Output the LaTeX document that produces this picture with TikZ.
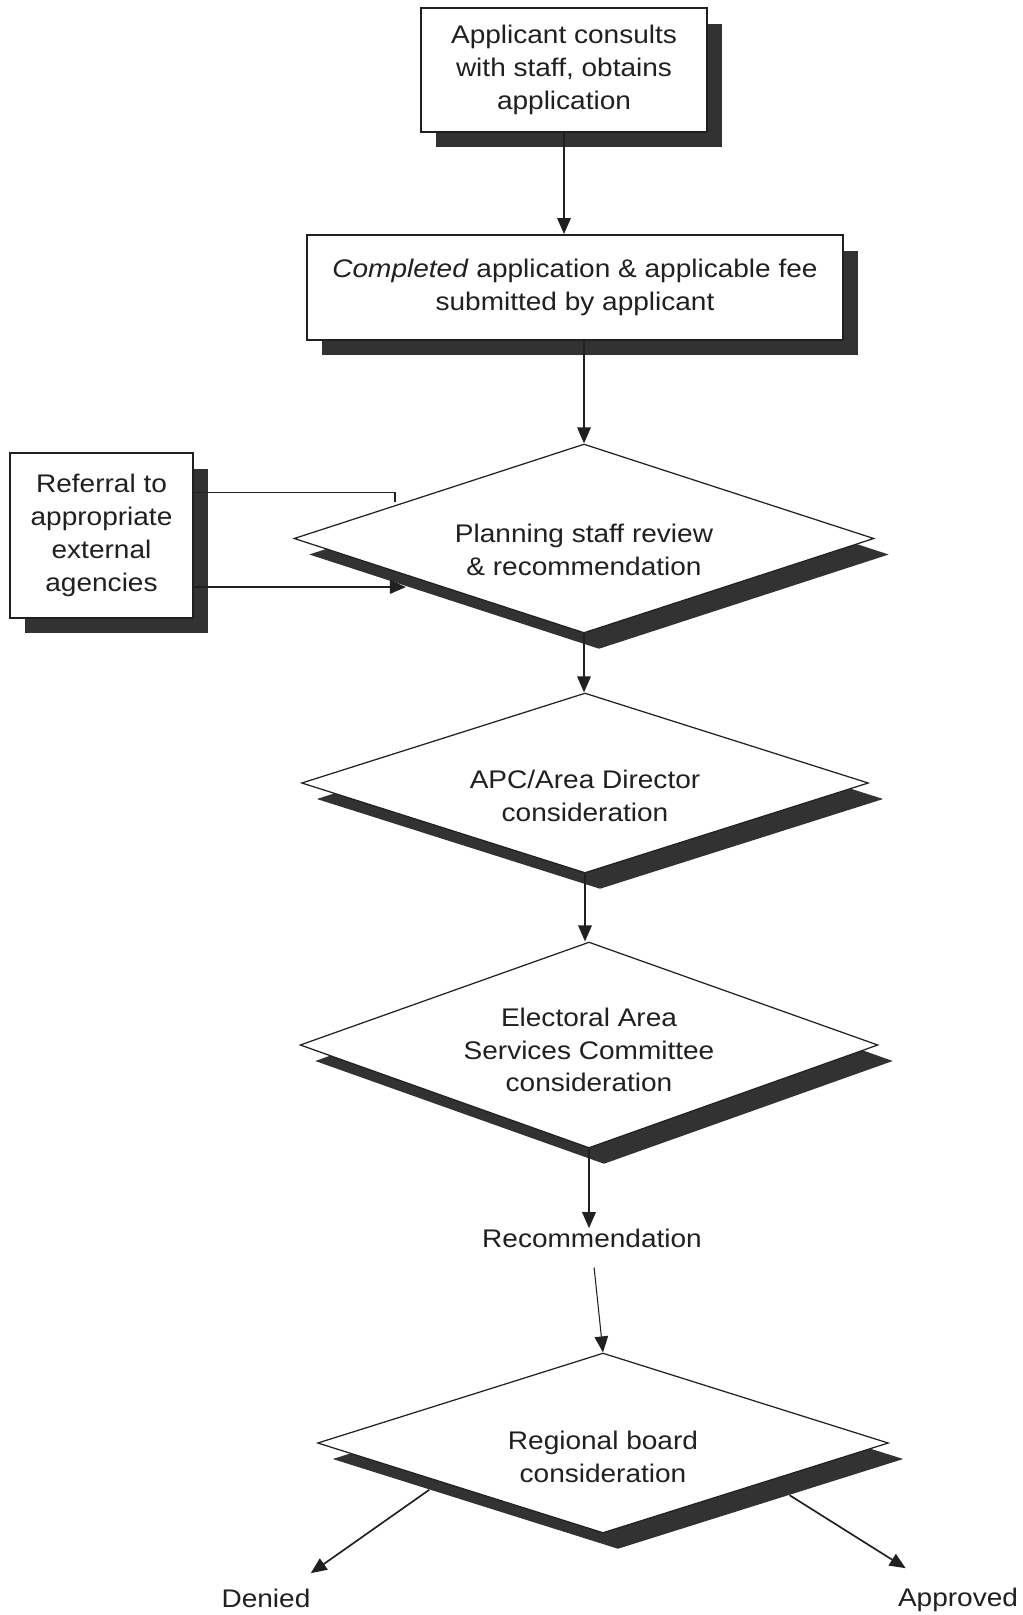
\documentclass[tikz,border=0pt]{standalone}
\usepackage{fontspec}
\setmainfont[FakeStretch=1.1]{Liberation Sans}
\usetikzlibrary{shapes.geometric,arrows.meta,shadows,calc}
\definecolor{Ink}{RGB}{32,32,32}
\definecolor{Shade}{RGB}{50,50,50}
\newcommand{\flowfont}{\fontsize{14.5}{18.7}\selectfont}
\tikzset{
  stepbox/.style={rectangle,draw=Ink,line width=1.1pt,fill=white,
                  align=center,inner sep=2pt,
                  drop shadow={shadow xshift=0.3cm,shadow yshift=-0.31cm,
                               fill=Shade,opacity=1}},
  decision/.style={diamond,draw=Ink,line width=0.7pt,fill=white,inner sep=0pt,
                  drop shadow={shadow xshift=0.3cm,shadow yshift=-0.32cm,
                               fill=Shade,opacity=1}},
  dtext/.style={align=center,inner sep=0pt},
  outcome/.style={inner sep=0pt,anchor=base},
  flow/.style={-{Triangle[length=0.32cm,width=0.27cm]},Ink,line width=0.95pt},
  link/.style={Ink,line width=0.95pt},
}

\begin{document}
\begin{tikzpicture}[x=0.02cm,y=-0.02cm,
    every node/.style={font=\flowfont,text=Ink}]
  \useasboundingbox (0,0) rectangle (1023,1615);

  % boxes
  \node[stepbox,minimum width=5.72cm,minimum height=2.48cm] (consult) at (564,70)
    {Applicant consults\\with staff, obtains\\application};
  \node[stepbox,minimum width=10.72cm,minimum height=2.1cm] (submit) at (575,287.5)
    {\textit{Completed} application \& applicable fee\\submitted by applicant};
  \node[stepbox,minimum width=3.66cm,minimum height=3.3cm] (referral) at (101.5,535.5)
    {Referral to\\appropriate\\external\\agencies};

  % decisions
  \node[decision,minimum width=11.6cm,minimum height=3.78cm,
        label={[dtext,yshift=-0.22cm]center:Planning staff review\\\& recommendation}]
        (review) at (584,538.5) {};
  \node[decision,minimum width=11.34cm,minimum height=3.6cm,
        label={[dtext,yshift=-0.26cm]center:APC/Area Director\\consideration}]
        (apc) at (585,783) {};
  \node[decision,minimum width=11.56cm,minimum height=4.12cm,
        label={[dtext,yshift=-0.1cm]center:Electoral Area\\Services Committee\\consideration}]
        (easc) at (589,1045) {};
  \node[decision,minimum width=11.42cm,minimum height=3.6cm,
        label={[dtext,yshift=-0.28cm]center:Regional board\\consideration}]
        (board) at (603,1443) {};

  % plain labels
  \node[outcome] (recomm) at (592,1247) {Recommendation};
  \node[outcome] (denied) at (266,1607) {Denied};
  \node[outcome] (approved) at (958,1606) {Approved};

  % connectors
  \draw[flow] (consult.south) -- (consult.south |- submit.north);
  \draw[flow] (submit.south -| review.north) -- (review.north);
  \draw[flow] (review.south) -- (review.south |- apc.north);
  \draw[flow] (apc.south) -- (apc.south |- easc.north);
  \draw[flow] (easc.south) -- (easc.south |- recomm.north);
  \draw[flow,line width=0.6pt,shorten <=0.4cm] (recomm.south) -- (board.north);

  \coordinate (reftop) at (395,502);
  \draw[link] (reftop) |- ($(referral.east)+(0,-43)$);
  \draw[flow] ($(referral.east)+(0,51.5)$) -- ++(212,0);

  \draw[flow] ($(board.south)!0.66!(board.west)+(15,16)$)
    -- ($(denied.north east)+(0,-15)$);
  \draw[flow] ($(board.south)!0.6!(board.east)+(15,16)$)
    -- ($(approved.north west)+(8,-19)$);
\end{tikzpicture}
\end{document}
